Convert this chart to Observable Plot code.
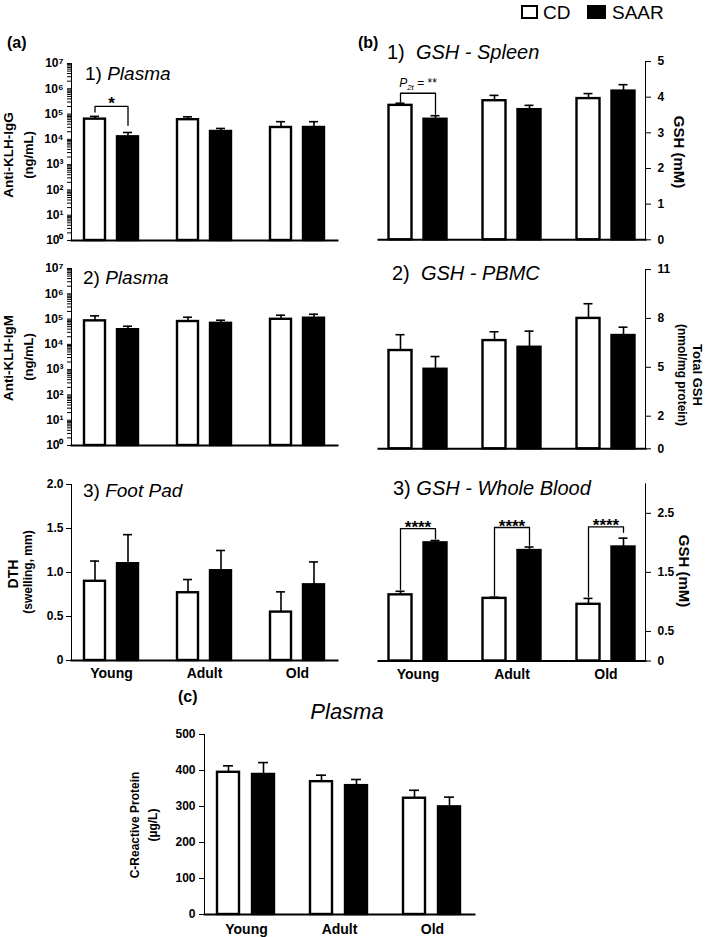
<!DOCTYPE html>
<html>
<head>
<meta charset="utf-8">
<script src="https://cdn.jsdelivr.net/npm/d3@7"></script>
<script src="https://cdn.jsdelivr.net/npm/@observablehq/plot@0.6"></script>
<style>
  body { margin: 0; background: #fff; }
  #fig { position: relative; width: 709px; height: 937px; overflow: hidden; background: #fff;
         font-family: Arial, "Liberation Sans", Helvetica, sans-serif; color: #000; }
  #fig svg { position: absolute; }
  .lab { position: absolute; white-space: nowrap; line-height: 1; transform: translate(-50%, -50%); }
  .left { transform: translate(0, -50%); }
  .rotL { transform: translate(-50%, -50%) rotate(-90deg); font-weight: bold; }
  .rotR { transform: translate(-50%, -50%) rotate(90deg); font-weight: bold; }
  .sq { position: absolute; box-sizing: border-box; border: 2px solid #000; }
  g[aria-label="fx-axis tick label"] { font-size: 14px; }
</style>
</head>
<body>
<div id="fig"></div>
<script>
// ---------------- data ----------------
const ages = ["Young", "Adult", "Old"];
const diets = ["CD", "SAAR"];

// (a) 1) Anti-KLH-IgG, ng/mL (bar value and upper end of error bar)
const iggCD = [6.3e4, 6.0e4, 2.95e4];
const iggCDTop = [8.1e4, 7.8e4, 5.0e4];
const iggSAAR = [1.26e4, 2.05e4, 2.95e4];
const iggSAARTop = [1.87e4, 2.7e4, 5.0e4];

// (a) 2) Anti-KLH-IgM, ng/mL
const igmCD = [8.5e4, 8.0e4, 9.8e4];
const igmCDTop = [1.34e5, 1.18e5, 1.42e5];
const igmSAAR = [3.8e4, 6.8e4, 1.08e5];
const igmSAARTop = [5.2e4, 9.0e4, 1.55e5];

// (a) 3) DTH foot pad swelling, mm
const dthCD = [0.90, 0.77, 0.55];
const dthCDTop = [1.13, 0.92, 0.78];
const dthSAAR = [1.10, 1.02, 0.86];
const dthSAARTop = [1.43, 1.25, 1.12];

// (b) 1) GSH spleen, mM
const spleenCD = [3.77, 3.90, 3.96];
const spleenCDTop = [3.83, 4.05, 4.10];
const spleenSAAR = [3.38, 3.65, 4.17];
const spleenSAARTop = [3.48, 3.77, 4.35];

// (b) 2) Total GSH PBMC, nmol/mg protein
const pbmcCD = [6.03, 6.64, 8.00];
const pbmcCDTop = [7.00, 7.18, 8.90];
const pbmcSAAR = [4.88, 6.23, 6.95];
const pbmcSAARTop = [5.66, 7.22, 7.46];

// (b) 3) GSH whole blood, mM
const bloodCD = [1.12, 1.06, 0.96];
const bloodCDTop = [1.18, 1.08, 1.06];
const bloodSAAR = [2.00, 1.87, 1.93];
const bloodSAARTop = [2.04, 1.93, 2.08];

// (c) C-reactive protein, µg/L
const crpCD = [395, 369, 323];
const crpCDTop = [413, 387, 345];
const crpSAAR = [389, 358, 299];
const crpSAARTop = [422, 375, 326];

// significance brackets (group, bracket top, CD foot, SAAR foot, label)
const sigIgG = {ages: ["Young"], top: [2.0e5], cdFoot: [1.2e5], saarFoot: [3.6e4], label: ["*"]};
const sigSpleen = {ages: ["Young"], top: [4.11], cdFoot: [3.87], saarFoot: [3.52], label: ["P2t = **"]};
const sigBlood = {ages: ["Young", "Adult", "Old"], top: [2.24, 2.26, 2.27], cdFoot: [1.21, 1.11, 1.09], saarFoot: [2.07, 1.96, 2.18], label: ["****", "****", "****"]};

// tick values
const logTicks = [];
for (let k = 0; k < 7; k++) for (let m = 1; m <= 9; m++) logTicks.push(m * Math.pow(10, k));
logTicks.push(1e7);
const sup = ["\u2070", "\u00B9", "\u00B2", "\u00B3", "\u2074", "\u2075", "\u2076", "\u2077"];
const logFormat = d => {
  const k = Math.round(Math.log10(d));
  return Math.abs(d - Math.pow(10, k)) < 1e-6 * d ? "10" + sup[k] : "";
};
const dthTicks = [0, 0.5, 1, 1.5, 2];
const spleenTicks = [0, 1, 2, 3, 4, 5];
const pbmcTicks = [0, 2, 5, 8, 11];
const bloodTicks = [0, 0.5, 1.5, 2.5];
const crpTicks = [0, 100, 200, 300, 400, 500];
const oneDec = d => d === 0 ? "0" : d.toFixed(1);

// ---------------- helpers ----------------
const FONT = 'Arial, "Liberation Sans", Helvetica, sans-serif';
const fig = document.getElementById("fig");

function rows(cd, cdTop, saar, saarTop) {
  return ages.flatMap((age, i) => [
    {age, diet: "CD", value: cd[i], top: cdTop[i]},
    {age, diet: "SAAR", value: saar[i], top: saarTop[i]}
  ]);
}

function bracket(sig) {
  const path = sig.ages.flatMap((age, i) => [
    {age, diet: "CD", y: sig.cdFoot[i]},
    {age, diet: "CD", y: sig.top[i]},
    {age, diet: "SAAR", y: sig.top[i]},
    {age, diet: "SAAR", y: sig.saarFoot[i]}
  ]);
  const labels = sig.ages.map((age, i) => ({age, y: sig.top[i], label: sig.label[i]}));
  return {path, labels};
}

function panel(cfg) {
  const data = rows(...cfg.values);
  const base = cfg.y.type === "log" ? cfg.y.domain[0] : 0;
  const marks = [
    Plot.barY(data, {fx: "age", x: "diet", y1: base, y2: "value", fill: "diet", stroke: "black", strokeWidth: 2.4}),
    Plot.ruleX(data, {fx: "age", x: "diet", y1: "value", y2: "top", stroke: "black", strokeWidth: 1.6}),
    Plot.tickY(data, {fx: "age", x: "diet", y: "top", stroke: "black", strokeWidth: 1.6, inset: cfg.capInset}),
    Plot.frame({anchor: "bottom", facet: "super", stroke: "black", strokeWidth: 2})
  ];
  if (cfg.sig) {
    const b = bracket(cfg.sig);
    marks.push(Plot.line(b.path, {fx: "age", x: "diet", y: "y", z: "age", stroke: "black", strokeWidth: 1.3}));
    marks.push(Plot.text(b.labels, {fx: "age", y: "y", text: "label", lineAnchor: "bottom",
      fontSize: cfg.sigFont, fontWeight: cfg.sigWeight, dy: cfg.sigDy}));
  }
  const svg = Plot.plot({
    width: cfg.width, height: cfg.height,
    marginLeft: cfg.m[3], marginRight: cfg.m[1], marginTop: cfg.m[0], marginBottom: cfg.m[2],
    style: {fontFamily: FONT, fontSize: "12px", fontWeight: "bold", color: "black", background: "transparent", overflow: "visible"},
    fx: {domain: ages, paddingInner: cfg.fxPad, paddingOuter: 0, label: null,
         axis: cfg.xLabels ? "bottom" : null, tickSize: 0, tickPadding: cfg.xPad || 8},
    x: {domain: diets, paddingInner: cfg.xPadIn, paddingOuter: cfg.xPadOut, axis: null},
    y: Object.assign({label: null, line: true, tickSize: 5, tickPadding: 3}, cfg.y),
    color: {domain: diets, range: ["white", "black"]},
    marks
  });
  svg.style.left = cfg.left + "px";
  svg.style.top = cfg.top + "px";
  // subscript formatting for P2t label
  svg.querySelectorAll("text").forEach(t => {
    if (t.textContent === "P2t = **") {
      t.textContent = "";
      const NS = "http://www.w3.org/2000/svg";
      const parts = [["P", "italic", null, 0], ["2t", "italic", "8px", 3], [" = **", "normal", null, -3]];
      for (const [s, fs, size, dy] of parts) {
        const ts = document.createElementNS(NS, "tspan");
        ts.textContent = s;
        ts.setAttribute("font-style", fs);
        if (size) ts.setAttribute("font-size", size);
        if (dy) ts.setAttribute("dy", dy);
        t.appendChild(ts);
      }
    }
  });
  fig.appendChild(svg);
}

function label(html, x, y, cls, css) {
  const d = document.createElement("div");
  d.className = "lab " + (cls || "");
  d.innerHTML = html;
  d.style.left = x + "px";
  d.style.top = y + "px";
  Object.assign(d.style, css || {});
  fig.appendChild(d);
}

// ---------------- panels ----------------
const colA = {left: 0, width: 350, fxPad: 0.14, xPadIn: 0.353, xPadOut: 0.353, capInset: 6};
const colB = {left: 350, width: 359, fxPad: 0.162, xPadIn: 0.352, xPadOut: 0.289, capInset: 7};

panel(Object.assign({}, colA, {top: 40, height: 215, m: [23, 13, 15, 71],
  values: [iggCD, iggCDTop, iggSAAR, iggSAARTop],
  y: {type: "log", domain: [1, 1e7], ticks: logTicks, tickFormat: logFormat, tickSize: 4, tickPadding: 4, axis: "left"},
  sig: sigIgG, sigFont: 17, sigWeight: "bold", sigDy: 3}));

panel(Object.assign({}, colA, {top: 245, height: 215, m: [23, 13, 15, 71],
  values: [igmCD, igmCDTop, igmSAAR, igmSAARTop],
  y: {type: "log", domain: [1, 1e7], ticks: logTicks, tickFormat: logFormat, tickSize: 4, tickPadding: 4, axis: "left"}}));

panel(Object.assign({}, colA, {top: 460, height: 240, m: [24, 13, 40, 71], xLabels: true, xPad: 8,
  values: [dthCD, dthCDTop, dthSAAR, dthSAARTop],
  y: {type: "linear", domain: [0, 2], ticks: dthTicks, tickFormat: oneDec, axis: "left"}}));

panel(Object.assign({}, colB, {top: 40, height: 215, m: [21, 64, 15.7, 27.5],
  values: [spleenCD, spleenCDTop, spleenSAAR, spleenSAARTop],
  y: {type: "linear", domain: [0, 5], ticks: spleenTicks, tickFormat: d => String(d), axis: "right", tickPadding: 7},
  sig: sigSpleen, sigFont: 12, sigWeight: "normal", sigDy: -6}));

panel(Object.assign({}, colB, {top: 245, height: 220, m: [24, 64, 16.7, 27.5],
  values: [pbmcCD, pbmcCDTop, pbmcSAAR, pbmcSAARTop],
  y: {type: "linear", domain: [0, 11], ticks: pbmcTicks, tickFormat: d => String(d), axis: "right", tickPadding: 7}}));

panel(Object.assign({}, colB, {top: 460, height: 240, m: [23.3, 64, 39.5, 27.5], xLabels: true, xPad: 8,
  values: [bloodCD, bloodCDTop, bloodSAAR, bloodSAARTop],
  y: {type: "linear", domain: [0, 3], ticks: bloodTicks, tickFormat: oneDec, axis: "right", tickPadding: 7},
  sig: sigBlood, sigFont: 17, sigWeight: "bold", sigDy: 4}));

panel({left: 100, top: 700, width: 450, height: 237, m: [34, 76, 23, 103], xLabels: true, xPad: 10,
  fxPad: 0.1, xPadIn: 0.366, xPadOut: 0.366, capInset: 6,
  values: [crpCD, crpCDTop, crpSAAR, crpSAARTop],
  y: {type: "linear", domain: [0, 500], ticks: crpTicks, tickFormat: d => String(d), axis: "left", tickPadding: 4}});

// ---------------- text ----------------
label("(a)", 7, 43, "left", {fontSize: "16px", fontWeight: "bold"});
label("(b)", 358, 43, "left", {fontSize: "16px", fontWeight: "bold"});
label("(c)", 178, 697, "left", {fontSize: "16px", fontWeight: "bold"});

label("1) <i>Plasma</i>", 85, 73, "left", {fontSize: "19px"});
label("2) <i>Plasma</i>", 83, 277, "left", {fontSize: "19px"});
label("3) <i>Foot Pad</i>", 83, 490, "left", {fontSize: "19px"});
label("1)&nbsp;&nbsp;<i>GSH - Spleen</i>", 387, 52, "left", {fontSize: "20px"});
label("2)&nbsp;&nbsp;<i>GSH - PBMC</i>", 392, 273, "left", {fontSize: "20px"});
label("3) <i>GSH - Whole Blood</i>", 393, 488, "left", {fontSize: "20px"});
label("<i>Plasma</i>", 347, 712, "", {fontSize: "22px"});

label("Anti-KLH-IgG", 9, 155, "rotL", {fontSize: "13.5px"});
label("(ng/mL)", 27.5, 155, "rotL", {fontSize: "13px"});
label("Anti-KLH-IgM", 8.5, 358, "rotL", {fontSize: "13.5px"});
label("(ng/mL)", 27.5, 357, "rotL", {fontSize: "13px"});
label("DTH", 12.5, 574, "rotL", {fontSize: "14px"});
label("(swelling, mm)", 27.5, 572, "rotL", {fontSize: "12px"});
label("GSH (mM)", 679, 152, "rotR", {fontSize: "15px"});
label("Total GSH", 696.5, 375, "rotR", {fontSize: "13px"});
label("(nmol/mg protein)", 681.5, 375, "rotR", {fontSize: "12px"});
label("GSH (mM)", 684, 571, "rotR", {fontSize: "15px"});
label("C-Reactive Protein", 135, 825, "rotL", {fontSize: "12px"});
label("(\u00B5g/L)", 153, 825, "rotL", {fontSize: "12px"});

// legend
const sqW = document.createElement("div");
sqW.className = "sq"; Object.assign(sqW.style, {left: "521px", top: "5px", width: "17px", height: "14px", background: "#fff"});
fig.appendChild(sqW);
const sqB = document.createElement("div");
sqB.className = "sq"; Object.assign(sqB.style, {left: "587px", top: "5px", width: "19px", height: "14px", background: "#000"});
fig.appendChild(sqB);
label("CD", 543, 12, "left", {fontSize: "19px"});
label("SAAR", 612, 12, "left", {fontSize: "19px"});
</script>
</body>
</html>
